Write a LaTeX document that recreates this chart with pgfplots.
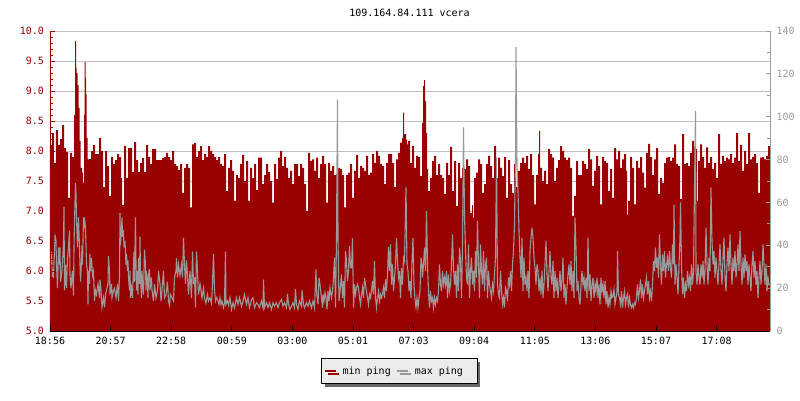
\documentclass[border=0pt]{standalone}
\usepackage{fontspec}
\setmainfont{DejaVu Sans Mono}
\usepackage{pgfplots}
\pgfplotsset{compat=1.18}
\usetikzlibrary{shadows}
\definecolor{mred}{HTML}{990000}
\definecolor{mgrey}{HTML}{999999}
\definecolor{grd}{HTML}{C0C0C0}
\definecolor{lbg}{HTML}{EBEBEB}
\pgfplotsset{
  base/.style={at={(0,0)}, anchor=south west, scale only axis, width=720pt, height=300pt,
    xmin=0, xmax=1440, font=\fontsize{10}{12}\selectfont},
}
\begin{document}
\begin{tikzpicture}[x=1pt,y=1pt]
\useasboundingbox (-50,-69) rectangle (750,331);
% min ping area with grid
\begin{axis}[base, ymin=5, ymax=10,
  ytick={5,5.5,6,6.5,7,7.5,8,8.5,9,9.5,10}, yticklabels={}, xtick=\empty,
  ymajorgrids, grid style={grd, line width=0.8pt}, major tick length=0pt,
  axis line style={draw=none}]
\addplot[const plot, fill=mred, draw=none] table[row sep=\\] {
0 8.1\\4 8.3\\8 7.8\\12 8.35\\16 8.1\\20 8.2\\24 8.43\\28 8.05\\32 7.98\\36 7.22\\40 7.97\\44 7.9\\48 8.6\\50 9.83\\52 9.39\\53 9.3\\55 9.1\\57 8.72\\59 8.17\\61 7.72\\64 7.64\\66 7.47\\68 8.6\\69 9.48\\71 9.22\\72 8.94\\73 8.22\\75 7.86\\78 7.87\\82 8.0\\86 8.1\\90 7.95\\94 7.95\\98 8.22\\102 8.0\\106 7.4\\110 8.0\\114 7.75\\118 7.25\\122 7.9\\126 7.78\\130 7.85\\134 7.95\\138 7.9\\142 7.55\\144 7.1\\148 8.08\\152 7.55\\156 8.05\\160 8.05\\164 7.65\\168 8.15\\172 7.85\\176 7.65\\180 7.8\\184 7.88\\188 7.65\\192 8.1\\196 7.9\\200 7.78\\204 8.03\\208 8.03\\212 7.85\\216 7.85\\220 7.85\\224 7.88\\228 7.9\\232 7.97\\236 7.9\\240 7.85\\244 8.0\\248 7.78\\252 7.75\\256 7.68\\260 7.78\\264 7.3\\268 7.72\\272 7.78\\276 7.72\\280 7.06\\284 8.11\\288 8.13\\292 7.9\\296 8.0\\300 8.08\\304 7.85\\308 7.95\\312 7.9\\316 8.08\\320 8.0\\324 7.95\\328 7.9\\332 7.85\\336 7.9\\340 7.78\\344 7.75\\348 7.95\\352 7.33\\356 7.72\\360 7.85\\
364 7.67\\368 7.17\\372 7.6\\376 7.55\\380 7.78\\384 7.93\\388 7.5\\392 7.83\\396 7.17\\400 7.72\\404 7.55\\408 7.78\\412 7.35\\416 7.89\\420 7.89\\424 7.45\\428 7.6\\432 7.78\\436 7.65\\440 7.5\\444 7.14\\448 7.78\\452 7.53\\456 7.89\\460 8.0\\464 7.75\\468 7.9\\472 7.72\\476 7.55\\480 7.67\\484 7.45\\488 7.78\\492 7.78\\496 7.58\\500 7.78\\504 7.72\\508 7.45\\512 7.0\\516 7.97\\520 7.83\\524 7.86\\528 7.67\\532 7.89\\536 7.55\\540 7.78\\544 7.92\\548 7.78\\552 7.14\\556 7.8\\560 7.67\\564 7.75\\568 7.6\\572 7.62\\576 7.72\\580 7.7\\584 7.6\\588 7.06\\592 7.6\\596 7.64\\600 7.78\\604 7.22\\608 7.67\\612 7.93\\616 7.55\\620 7.75\\624 7.72\\628 7.67\\632 7.92\\636 7.6\\640 7.64\\644 7.95\\648 7.8\\652 8.0\\656 7.92\\660 7.78\\664 7.75\\668 7.45\\672 7.8\\676 7.95\\680 7.95\\684 7.8\\688 7.4\\692 7.86\\696 7.97\\700 8.14\\704 8.22\\706 8.64\\708 8.28\\
712 8.19\\714 8.11\\716 8.17\\720 7.8\\724 8.08\\728 7.72\\732 7.92\\736 7.9\\740 7.58\\744 8.47\\746 9.08\\748 9.18\\750 8.83\\752 8.3\\754 7.7\\756 7.33\\760 7.55\\764 7.83\\768 7.92\\772 7.6\\776 7.78\\780 7.6\\784 7.55\\788 7.28\\792 7.8\\796 7.6\\800 8.07\\804 7.33\\808 7.83\\812 7.08\\816 7.8\\820 7.55\\824 7.72\\828 7.7\\832 7.86\\836 7.75\\840 6.97\\844 7.1\\846 6.89\\848 7.55\\852 7.64\\856 7.86\\860 7.78\\864 7.3\\868 7.45\\872 7.78\\876 7.92\\880 7.75\\884 7.55\\888 8.08\\892 7.55\\896 7.89\\900 7.72\\904 7.58\\908 7.9\\912 7.22\\916 7.85\\920 7.45\\924 7.3\\928 7.78\\932 7.4\\936 7.67\\940 7.8\\944 7.89\\948 7.8\\952 7.92\\956 7.7\\960 7.95\\964 7.6\\968 7.11\\972 7.6\\976 7.95\\978 8.33\\980 7.72\\984 7.5\\988 7.67\\992 7.45\\996 8.03\\1000 7.95\\1004 7.89\\1008 7.5\\1012 7.72\\1016 7.85\\1020 8.08\\1024 8.0\\1028 7.89\\1032 7.85\\1036 7.89\\1040 7.72\\1044 6.92\\1048 7.25\\1052 7.83\\1056 7.6\\1060 7.6\\1064 7.83\\1068 7.78\\1072 7.7\\
1076 8.03\\1080 7.86\\1084 7.42\\1088 7.67\\1092 7.92\\1096 7.75\\1100 7.11\\1104 7.9\\1108 7.83\\1112 7.8\\1116 7.33\\1120 7.7\\1124 7.22\\1128 8.05\\1132 7.86\\1136 8.0\\1140 7.72\\1144 7.86\\1148 7.95\\1152 7.67\\1154 6.94\\1156 7.17\\1160 7.9\\1164 7.72\\1168 7.11\\1172 7.83\\1176 7.72\\1180 7.9\\1184 7.64\\1188 7.39\\1192 7.97\\1196 8.12\\1200 7.9\\1204 7.6\\1208 7.86\\1212 8.05\\1216 7.28\\1220 7.55\\1224 7.47\\1228 7.8\\1232 7.89\\1236 7.9\\1240 7.83\\1244 7.89\\1248 8.11\\1252 7.78\\1256 7.75\\1260 7.2\\1264 8.28\\1268 7.78\\1272 7.8\\1276 7.75\\1280 7.97\\1284 8.17\\1288 8.06\\1292 8.03\\1294 7.17\\1296 7.83\\1300 8.11\\1304 7.9\\1308 7.72\\1312 8.06\\1316 7.8\\1320 7.9\\1324 7.7\\1328 7.8\\1332 7.55\\1336 8.28\\1340 7.78\\1344 7.92\\1348 7.83\\1352 7.89\\1356 7.86\\1360 7.95\\1364 7.8\\1368 7.89\\1372 8.3\\1376 7.83\\1380 8.1\\1384 7.67\\1388 8.0\\1392 7.78\\1396 8.3\\1400 7.86\\1404 7.9\\1408 7.95\\1412 7.8\\1416 7.3\\1420 7.89\\1424 7.9\\1428 7.86\\1432 7.92\\1436 8.08\\1440 8.08\\
} \closedcycle;
\end{axis}
% max ping line, right axis
\begin{axis}[base, ymin=0, ymax=140, axis y line*=right, axis x line=none,
  axis line style={-, mgrey, line width=0.8pt},
  ytick={0,20,40,60,80,100,120,140}, minor y tick num=1,
  tick align=inside, major tick length=4pt, minor tick length=3pt,
  tick style={mgrey, line width=0.8pt},
  yticklabel style={mgrey, xshift=3pt, /pgf/number format/assume math mode=true}]
\addplot[mgrey, line width=1.1pt] table[row sep=\\] {
0 28\\2 35\\3 37\\5 25\\7 25\\10 45\\12 42\\13 31\\15 20\\17 39\\19 31\\20 39\\21 23\\24 28\\27 41\\28 58\\29 19\\31 31\\32 23\\33 20\\35 34\\37 39\\39 47\\40 26\\42 20\\44 26\\45 28\\47 16.5\\48 39\\49 51\\51 69\\52 64\\53 53\\55 39\\56 47\\57 53\\59 39\\60 31\\61 23\\63 33\\64 40\\65 31\\67 53\\68 48\\69 53\\71 48\\72 40\\73 31\\75 28\\76 12.4\\77 28\\79 22\\80 36\\81 28\\83 34\\85 26\\87 28\\89 14\\91 19\\93 17\\96 22\\99 15.5\\100 24\\102 19\\104 11\\107 15.5\\109 11\\111 17\\113 19\\116 22\\117 35\\119 28\\120 17\\123 22\\124 15.5\\127 19\\129 20\\132 15.5\\135 22\\137 14\\139 26\\140 55\\141 40\\143 48\\144 53\\145 44\\147 47\\148 39\\150 42\\152 31\\153 36\\155 28\\156 33\\157 25\\159 19\\160 28\\161 15.5\\163 20\\165 15.5\\167 31\\168 37\\169 23\\171 53\\172 31\\173 19\\175 28\\176 17\\177 34\\179 22\\180 44\\181 25\\183 15.5\\184 28\\185 22\\187 17\\188 28\\189 38\\191 31\\192 19\\193 28\\195 22\\196 15.5\\197 26\\199 29\\200 19\\203 25\\204 19\\207 14\\209 22\\212 15.5\\215 19\\217 28\\220 22\\222 14\\224 19\\227 28\\229 15.5\\232 17\\235 23\\237 14\\239 12\\241 17\\244 15.5\\247 14\\249 25\\252 28\\253 34\\255 25\\257 31\\260 26\\263 31\\265 25\\267 43.5\\269 31\\271 22\\273 33\\275 26\\277 17\\280 28\\283 15.5\\285 37\\287 22\\289 25\\291 11\\293 37\\295 28\\297 17\\300 22\\302 19\\304 15.5\\307 20\\309 15.5\\312 13\\315 17\\317 14\\320 15.5\\323 13\\325 22\\327 36\\329 19\\331 14\\333 15.5\\336 14\\338 12.4\\340 15.5\\342 12.4\\344 14\\347 11\\349 13\\351 37\\352 12.4\\355 14\\357 12\\360 15.5\\
363 10.1\\366 13.2\\369 10.9\\373 15.5\\376 12.4\\379 15.5\\383 11.6\\386 14\\389 17\\393 12.4\\396 15.5\\399 10.9\\403 14.7\\406 15.5\\409 10.9\\413 13.2\\416 12.4\\419 10.9\\423 14\\426 10.9\\427 24\\429 10.9\\433 13.2\\436 10.9\\439 13.2\\443 10.1\\446 13.2\\449 11.6\\453 13.2\\456 10.9\\459 13.2\\463 14.7\\466 11.6\\469 13.2\\473 10.9\\475 17.4\\477 12.4\\480 10.1\\483 11.6\\486 13.2\\489 10.9\\491 19.7\\493 12.4\\496 10.1\\499 14\\503 11.6\\504 19\\507 12.4\\509 10.9\\513 13.2\\516 11.6\\519 14\\523 10.9\\526 14\\529 10.9\\532 28.7\\533 18.6\\536 12.4\\538 24.9\\540 21.7\\543 15.5\\545 10.9\\546 17.1\\548 14\\550 17.9\\552 15.5\\554 10.1\\556 18.6\\558 14\\560 20.2\\563 15.5\\565 18.6\\567 24.9\\569 34.2\\571 10.9\\573 42.8\\574 79\\575 108\\576 43.5\\578 14\\580 18.6\\583 26.4\\585 15.5\\587 23.3\\589 10.9\\591 37.3\\593 32.6\\595 23.3\\597 28\\599 39.6\\601 29.5\\603 29.5\\605 43.2\\607 10.9\\609 21.7\\611 17.1\\613 20.2\\615 21.7\\617 20.2\\619 15.5\\621 12.4\\623 17.1\\625 20.2\\627 15.5\\629 24.9\\631 21.7\\633 18.6\\635 15.5\\637 12.4\\639 17.1\\641 15.5\\643 18.6\\645 23.3\\647 17.1\\649 32.6\\651 15.5\\653 10.9\\655 15.5\\657 18.6\\659 14\\661 17.1\\663 15.5\\665 17.1\\667 20.2\\669 15.5\\671 24.1\\673 18.6\\675 26.4\\677 39.2\\679 28\\681 40.4\\683 21.7\\685 31.1\\687 18.6\\689 24.9\\691 31.1\\693 43.5\\695 32.6\\697 24.9\\699 28\\701 15.5\\703 29.5\\705 21.7\\707 34.2\\709 32.6\\
712 67\\714 31.1\\716 28\\718 18.6\\720 23.3\\722 15.5\\724 32.6\\726 43.5\\728 21.7\\730 14.7\\732 10.9\\734 15.5\\736 10.9\\738 15.5\\740 18.6\\742 34.2\\744 31.1\\745 24.9\\747 31.1\\749 38.9\\751 28\\753 56\\755 31.1\\757 18.6\\759 10.9\\761 18.6\\763 14\\765 15.5\\767 10.9\\769 15.5\\771 12.4\\773 15.5\\775 14\\777 18.6\\779 31.1\\781 21.7\\783 18.6\\785 28\\787 21.7\\789 24.9\\791 21.7\\793 28\\795 15.5\\797 26.4\\799 18.6\\801 21.7\\803 31.1\\805 45.1\\807 29.5\\809 21.7\\811 28\\813 15.5\\815 31.1\\817 18.6\\819 38.9\\821 32.6\\823 15.5\\825 40.4\\827 95\\829 54.4\\831 37.3\\833 24.9\\835 21.7\\837 40.4\\839 15.5\\841 28\\843 34.2\\845 21.7\\847 28\\849 18.6\\851 37.3\\853 24.9\\855 51.3\\857 31.1\\859 15.5\\861 40.4\\863 28\\865 21.7\\867 37.3\\869 18.6\\871 31.1\\873 34.2\\875 15.5\\877 28\\879 21.7\\881 18.6\\883 15.5\\885 21.7\\887 18.6\\889 26.4\\891 34.2\\893 81\\895 21.7\\897 17.1\\899 15.5\\901 28\\903 18.6\\905 12.4\\907 15.5\\909 10.9\\911 20.2\\913 18.6\\915 14\\917 24.9\\919 21.7\\921 28\\923 18.6\\925 31.1\\927 37.3\\929 49.8\\930 66.9\\931 78.5\\932 132.5\\934 77.8\\936 65.3\\938 46.6\\940 34.2\\942 24.9\\944 43.5\\946 18.6\\948 34.2\\950 21.7\\952 24.9\\954 18.6\\956 28\\958 15.5\\960 37.3\\962 43.5\\964 48.2\\966 43.5\\968 34.2\\970 29.5\\972 21.7\\974 31.1\\976 28\\978 18.6\\980 24.9\\982 17.1\\984 28\\986 15.5\\988 21.7\\990 31.1\\992 42\\994 26.4\\996 18.6\\998 28\\1000 37.3\\1002 24.9\\1004 21.7\\1006 32.6\\1008 15.5\\1010 28\\1012 18.6\\1014 24.9\\1016 15.5\\1018 21.7\\1020 28\\1022 18.6\\1024 23.3\\1026 34.2\\1028 15.5\\1030 21.7\\1032 12.4\\1034 20.2\\1036 26.4\\1038 31.1\\1040 21.7\\1042 32.6\\1044 18.6\\1046 28\\1048 15.5\\1050 52.9\\1052 38.9\\1054 18.6\\1056 23.3\\1058 15.5\\1060 12.4\\1062 21.7\\1064 28\\1066 21.7\\1068 24.9\\1070 18.6\\
1072 24.9\\1074 15.5\\1076 43.5\\1078 18.6\\1080 26.4\\1082 14\\1084 21.7\\1086 24.9\\1088 15.5\\1090 21.7\\1092 18.6\\1094 24.9\\1096 15.5\\1098 21.7\\1100 12.4\\1102 24.9\\1104 18.6\\1106 21.7\\1108 15.5\\1110 23.3\\1112 12.4\\1114 18.6\\1116 10.9\\1118 15.5\\1120 12.4\\1122 18.6\\1124 15.5\\1126 16.3\\1128 19.4\\1130 12.4\\1132 15.5\\1134 18.6\\1135 37.3\\1137 17.1\\1139 15.5\\1141 12.4\\1143 18.6\\1145 10.9\\1147 15.5\\1149 18.6\\1151 12.4\\1153 15.5\\1155 17.1\\1157 10.9\\1159 15.5\\1161 12.4\\1163 10.9\\1165 12.4\\1167 10.9\\1169 13.2\\1171 12.4\\1173 15.5\\1175 21.7\\1177 15.5\\1179 18.6\\1181 24.1\\1183 15.5\\1185 21.7\\1187 15.5\\1189 18.6\\1191 21.7\\1193 24.9\\1195 17.1\\1197 23.3\\1199 15.5\\1201 18.6\\1203 14\\1205 21.7\\1207 32.6\\1209 28\\1211 38.9\\1213 29.5\\1215 34.2\\1217 24.9\\1219 45.1\\1221 31.1\\1223 21.7\\1225 35.8\\1227 28\\1229 37.3\\1231 24.9\\1233 31.1\\1235 34.2\\1237 28\\1239 37.3\\1241 29.5\\1243 24.9\\1245 40.4\\1247 31.1\\1248 59\\1250 21.7\\1252 31.1\\1254 24.9\\1256 17.1\\1258 31.1\\1260 43.5\\1261 60\\1263 31.1\\1265 17.1\\1267 24.9\\1269 15.5\\1271 21.7\\1273 18.6\\1275 28\\1277 21.7\\1279 24.9\\1281 18.6\\1283 31.1\\1285 21.7\\1287 28\\1289 66.9\\1291 102.7\\1292 28\\1294 21.7\\1296 31.1\\1298 24.9\\1300 21.7\\1302 31.1\\1304 24.9\\1306 32.6\\1308 21.7\\1310 28\\1312 48.2\\1314 31.1\\1316 21.7\\1318 34.2\\1320 28\\1322 66.9\\1324 42\\1326 31.1\\1328 37.3\\1330 24.9\\1332 34.2\\1334 28\\1336 21.7\\1338 31.1\\1340 40.4\\1342 28\\1344 21.7\\1346 34.2\\1348 43.5\\1350 24.9\\1352 18.6\\1354 31.1\\1356 38.9\\1358 28\\1360 45.1\\1362 31.1\\1364 21.7\\1366 34.2\\1368 28\\1370 37.3\\1372 24.9\\1374 31.1\\1376 40.4\\1378 28\\1380 46.6\\1382 31.1\\1384 21.7\\1386 34.2\\1388 24.9\\1390 35.8\\1392 28\\1394 32.6\\1396 21.7\\1398 31.1\\1400 24.9\\1402 18.6\\1404 31.1\\1406 37.3\\1408 24.9\\1410 32.6\\1412 21.7\\1414 28\\1416 15.5\\1418 24.9\\1420 32.6\\1422 21.7\\1424 28\\1426 40.4\\1428 31.1\\1430 21.7\\1432 31.1\\1434 18.6\\1436 24.9\\1438 21.7\\1440 21.7\\
};
\end{axis}
% left axis
\begin{axis}[base, ymin=5, ymax=10, axis y line*=left, axis x line=none,
  axis line style={-, mred, line width=0.8pt},
  ytick={5,5.5,6,6.5,7,7.5,8,8.5,9,9.5,10}, minor y tick num=4,
  tick align=inside, major tick length=5pt, minor tick length=3pt,
  tick style={mred, line width=0.8pt},
  yticklabel style={mred, xshift=-2.5pt, /pgf/number format/fixed, /pgf/number format/fixed zerofill,
    /pgf/number format/precision=1, /pgf/number format/assume math mode=true}]
\end{axis}
% x axis and legend
\begin{axis}[base, ymin=0, ymax=1, axis x line*=bottom, axis y line=none,
  axis line style={-, black, line width=0.8pt},
  xtick={0,121.2,242.4,363.6,484.8,606,727.2,848.4,969.6,1090.8,1212,1333.2},
  xticklabels={18:56,20:57,22:58,00:59,03:00,05:01,07:03,09:04,11:05,13:06,15:07,17:08},
  xticklabel style={yshift=-3pt},
  tick align=inside, major tick length=5pt, tick style={black, line width=0.8pt},
  legend columns=2,
  legend image code/.code={\draw[#1] (0pt,0pt) -- (11pt,0pt);},
  legend style={at={(0.4851,-0.1343)}, anchor=center, fill=lbg, draw=black, line width=0.8pt,
    inner xsep=2pt, inner ysep=6pt, font=\fontsize{10}{12}\selectfont,
    drop shadow={shadow xshift=3pt, shadow yshift=-3pt, fill=black!60, opacity=1},
    /tikz/every even column/.append style={column sep=3pt}}]
\addlegendimage{mred, line width=2pt}
\addlegendentry{\hspace*{4pt}min ping}
\addlegendimage{mgrey, line width=2pt}
\addlegendentry{\hspace*{4pt}max ping\hspace*{10pt}}
\end{axis}
\node[font=\fontsize{10}{12}\selectfont] at (359.5,318) {109.164.84.111 vcera};
\end{tikzpicture}
\end{document}
